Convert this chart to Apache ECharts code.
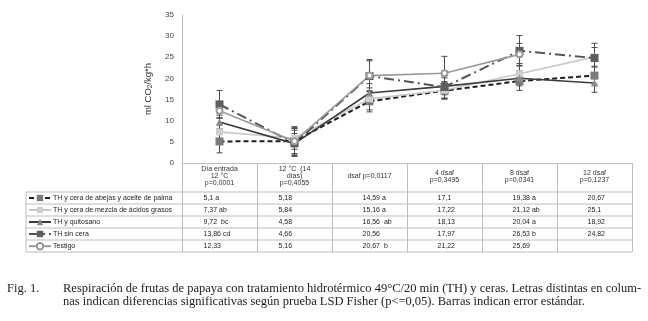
<!DOCTYPE html>
<html><head><meta charset="utf-8">
<script src="https://cdn.jsdelivr.net/npm/echarts@6/dist/echarts.min.js"></script>
<style>html,body{margin:0;padding:0;background:#fff}#c{width:648px;height:321px}</style>
</head><body><div id="c"></div>
<script>
// ---- data ----
const categories = ['Día entrada\n12 °C\np=0,0001', '12 °C  (14\ndías)\np=0,4055', 'dsaf p=0,0117', '4 dsaf\np=0,3495', '8 dsaf\np=0,0341', '12 dsaf\np=0,1237'];
const seriesNames = ['TH y cera de abejas y aceite de palma', 'TH y cera de mezcla de ácidos grasos', 'TH y quitosano', 'TH sin cera', 'Testigo'];
const abejas    = [5.1, 5.18, 14.59, 17.1, 19.38, 20.67];
const mezcla    = [7.37, 5.84, 15.16, 17.22, 21.12, 25.1];
const quitosano = [9.72, 4.58, 16.56, 18.13, 20.04, 18.92];
const sinCera   = [13.86, 4.66, 20.56, 17.97, 26.53, 24.82];
const testigo   = [12.33, 5.16, 20.67, 21.22, 25.69, null];
const abejasLetters    = ['a', '', 'a', '', 'a', ''];
const mezclaLetters    = ['ab', '', 'a', '', 'ab', ''];
const quitosanoLetters = [' bc', '', ' ab', '', 'a', ''];
const sinCeraLetters   = ['cd', '', '', '', 'b', ''];
const testigoLetters   = ['', '', ' b', '', '', ''];
const abejasErr    = [2.7, 3.4, 2.5, 2.0, 2.2, 2.0];
const mezclaErr    = [1.6, 2.6, 2.6, 2.0, 2.4, 2.2];
const quitosanoErr = [1.6, 2.4, 2.2, 2.0, 1.8, 2.2];
const sinCeraErr   = [3.3, 3.1, 3.6, 2.6, 3.6, 3.5];
const testigoErr   = [1.6, 3.0, 3.8, 4.0, 2.6, null];
const yTicks = [0, 5, 10, 15, 20, 25, 30, 35];
const captionLabel = 'Fig. 1.';
const captionLines = ['Respiración de frutas de papaya con tratamiento hidrotérmico 49°C/20 min (TH) y ceras. Letras distintas en colum-',
                      'nas indican diferencias significativas según prueba LSD Fisher (p<=0,05). Barras indican error estándar.'];

const allValues = [abejas, mezcla, quitosano, sinCera, testigo];
const allLetters = [abejasLetters, mezclaLetters, quitosanoLetters, sinCeraLetters, testigoLetters];
const allErr = [abejasErr, mezclaErr, quitosanoErr, sinCeraErr, testigoErr];

const styles = [
  {color: '#1e1e1e', width: 2, type: [5, 3], symbol: 'rect', symbolSize: 8, sym: '#7a7a7a'},
  {color: '#c8c8c8', width: 1.6, type: 'solid', symbol: 'rect', symbolSize: 7, sym: '#cfcfcf'},
  {color: '#3c3c3c', width: 1.6, type: 'solid', symbol: 'triangle', symbolSize: 7, sym: '#8a8a8a'},
  {color: '#555555', width: 2, type: [10, 4, 2, 4], symbol: 'rect', symbolSize: 8, sym: '#5e5e5e'},
  {color: '#9a9a9a', width: 1.6, type: 'solid', symbol: 'emptyCircle', symbolSize: 6, sym: '#9a9a9a'}
];

function errRender(params, api) {
  const lo = api.coord([api.value(0), api.value(1)]);
  const hi = api.coord([api.value(0), api.value(2)]);
  const w = 3;
  const st = {stroke: '#4a4a4a', lineWidth: 1};
  return {type: 'group', children: [
    {type: 'line', shape: {x1: lo[0], y1: lo[1], x2: hi[0], y2: hi[1]}, style: st},
    {type: 'line', shape: {x1: lo[0] - w, y1: lo[1], x2: lo[0] + w, y2: lo[1]}, style: st},
    {type: 'line', shape: {x1: hi[0] - w, y1: hi[1], x2: hi[0] + w, y2: hi[1]}, style: st}
  ]};
}

const series = [];
allValues.forEach((vals, k) => {
  const data = [];
  vals.forEach((v, i) => { if (v != null && allErr[k][i] != null) data.push([i, v - allErr[k][i], v + allErr[k][i]]); });
  series.push({type: 'custom', name: 'err' + k, renderItem: errRender, data: data, z: 2, silent: true});
});
allValues.forEach((vals, k) => {
  const s = styles[k];
  series.push({
    type: 'line', name: seriesNames[k], data: vals, z: 3,
    symbol: s.symbol, symbolSize: s.symbolSize, showAllSymbol: true,
    lineStyle: {color: s.color, width: s.width, type: s.type},
    itemStyle: {color: s.sym, borderColor: s.sym, borderWidth: s.symbol === 'emptyCircle' ? 1.3 : 0},
    color: s.color,
    animation: false
  });
});

const chart = echarts.init(document.getElementById('c'), null, {renderer: 'canvas'});
chart.setOption({
  animation: false,
  backgroundColor: '#fff',
  textStyle: {fontFamily: 'Liberation Sans, Arial, sans-serif'},
  grid: {left: 182, right: 16, top: 15, bottom: 158, containLabel: false},
  xAxis: {
    type: 'category', data: categories, boundaryGap: true,
    axisLine: {lineStyle: {color: '#bdbdbd', width: 1}},
    axisTick: {show: true, length: 89, lineStyle: {color: '#bdbdbd', width: 1}},
    axisLabel: {margin: 13.5, verticalAlign: 'middle', fontSize: 7, lineHeight: 7, color: '#333', interval: 0}
  },
  yAxis: {
    type: 'value', min: yTicks[0], max: yTicks[yTicks.length - 1], interval: 5,
    name: 'ml CO{s|2}/kg*h', nameLocation: 'middle', nameGap: 24, nameRotate: 90,
    nameTextStyle: {fontSize: 9.5, color: '#333', rich: {s: {fontSize: 6.5, padding: [5, 0, 0, 0]}}},
    axisLine: {show: true, lineStyle: {color: '#bdbdbd', width: 1}},
    axisTick: {show: false},
    splitLine: {show: false},
    axisLabel: {fontSize: 8, color: '#444', margin: 8}
  },
  legend: {
    data: seriesNames, orient: 'vertical', left: 28, top: 194, padding: 0,
    itemWidth: 22, itemHeight: 8, itemGap: 4,
    textStyle: {fontSize: 7, color: '#222', lineHeight: 8, padding: [0, 0, 0, -3]},
    selectedMode: false
  },
  series: series
});

// table cells and borders
const graphics = [];
const xRight = chart.convertToPixel({xAxisIndex: 0}, categories.length - 1) + 37.5;
const rowTop = 192, rowH = 12;
for (let r = 0; r <= seriesNames.length; r++) {
  graphics.push({type: 'line', shape: {x1: 26, y1: rowTop + r * rowH, x2: xRight, y2: rowTop + r * rowH}, style: {stroke: '#bdbdbd', lineWidth: 1}, silent: true});
}
graphics.push({type: 'line', shape: {x1: 26, y1: rowTop, x2: 26, y2: rowTop + seriesNames.length * rowH}, style: {stroke: '#bdbdbd', lineWidth: 1}, silent: true});
allValues.forEach((vals, r) => {
  vals.forEach((v, i) => {
    if (v == null) return;
    const cx = chart.convertToPixel({xAxisIndex: 0}, i);
    const off = i < 2 ? -16 : -7;
    const txt = String(v).replace('.', ',') + (allLetters[r][i] ? ' ' + allLetters[r][i] : '');
    graphics.push({type: 'text', left: cx + off, top: rowTop + r * rowH + 2.5, silent: true,
      style: {text: txt, fontSize: 7, fill: '#222', fontFamily: 'Liberation Sans, Arial, sans-serif'}});
  });
});
graphics.push({type: 'text', left: 7, top: 282.5, silent: true,
  style: {text: captionLabel, fontSize: 12.5, fill: '#222', fontFamily: 'Liberation Serif, Times New Roman, serif'}});
captionLines.forEach((ln, i) => {
  graphics.push({type: 'text', left: 63, top: 282.5 + i * 13, silent: true,
    style: {text: ln, fontSize: 12.5, fill: '#222', fontFamily: 'Liberation Serif, Times New Roman, serif'}});
});
chart.setOption({graphic: graphics});
</script>
</body></html>
